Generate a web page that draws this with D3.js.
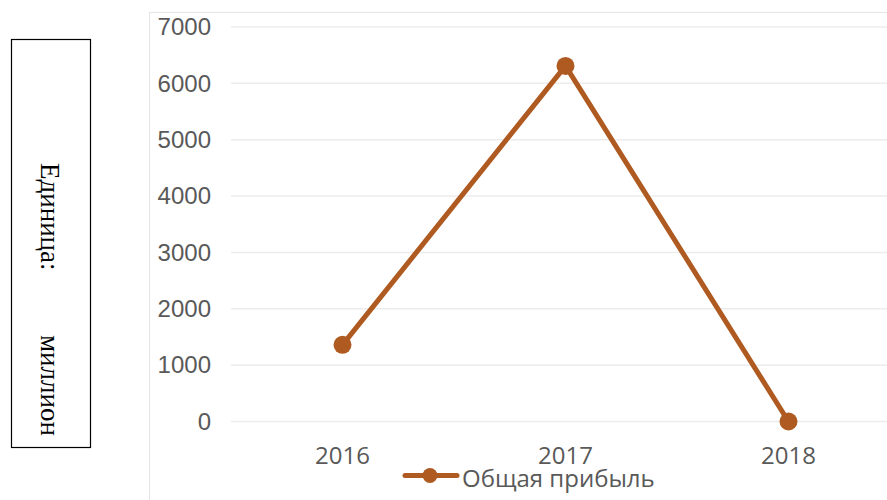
<!DOCTYPE html>
<html>
<head>
<meta charset="utf-8">
<script src="https://cdn.jsdelivr.net/npm/d3@7"></script>
<style>
  html, body { margin: 0; padding: 0; background: #ffffff; }
  svg { display: block; }
</style>
</head>
<body>
<div id="chart"></div>
<script>
const categories = ["2016", "2017", "2018"];
const seriesName = "Общая прибыль";
const profitValues = [1360, 6310, 0];
const yTickValues = [0, 1000, 2000, 3000, 4000, 5000, 6000, 7000];
const unitLabelParts = ["Единица:", "миллион"];

const W = 887, H = 500;
const lineColor = "#AE5A21";
const textColor = "#595959";

const svg = d3.select("#chart").append("svg")
  .attr("width", W).attr("height", H);

// chart area frame (extends beyond the visible window)
svg.append("rect")
  .attr("x", 149.5).attr("y", 12.5)
  .attr("width", 800).attr("height", 600)
  .attr("fill", "none").attr("stroke", "#e6e6e6").attr("stroke-width", 1.2);

const x = d3.scaleBand().domain(categories).range([231, 900]).padding(0);
const y = d3.scaleLinear().domain([0, 7000]).range([421.5, 27]);

// gridlines
svg.append("g").selectAll("line").data(yTickValues).join("line")
  .attr("x1", 231).attr("x2", 900)
  .attr("y1", d => y(d)).attr("y2", d => y(d))
  .attr("stroke", "#ececec").attr("stroke-width", 1.5);

// y axis labels
const yAxis = d3.axisLeft(y).tickValues(yTickValues).tickFormat(d3.format("d")).tickSize(0).tickPadding(0);
const gy = svg.append("g").attr("transform", "translate(211,0)").call(yAxis);
gy.select(".domain").remove();
gy.selectAll("text")
  .attr("fill", textColor)
  .style("font-family", "'Liberation Sans', Arial, sans-serif")
  .style("font-size", "24px");

// x axis labels
const xAxis = d3.axisBottom(x).tickSize(0).tickPadding(0);
const gx = svg.append("g").attr("transform", "translate(0,446)").call(xAxis);
gx.select(".domain").remove();
gx.selectAll("text")
  .attr("dy", "0")
  .attr("y", 18)
  .attr("fill", textColor)
  .style("font-family", "'Open Sans', 'Noto Sans', sans-serif")
  .style("font-size", "24px");

// series line
const data = categories.map((c, i) => ({ c, v: profitValues[i] }));
const line = d3.line().x(d => x(d.c) + x.bandwidth() / 2).y(d => y(d.v));
svg.append("path").datum(data)
  .attr("d", line)
  .attr("fill", "none").attr("stroke", lineColor)
  .attr("stroke-width", 5).attr("stroke-linejoin", "round").attr("stroke-linecap", "round");
svg.append("g").selectAll("circle").data(data).join("circle")
  .attr("cx", d => x(d.c) + x.bandwidth() / 2)
  .attr("cy", d => y(d.v))
  .attr("r", 9)
  .attr("fill", lineColor);

// legend
const lg = svg.append("g");
lg.append("line").attr("x1", 405).attr("x2", 457).attr("y1", 475.5).attr("y2", 475.5)
  .attr("stroke", lineColor).attr("stroke-width", 5).attr("stroke-linecap", "round");
lg.append("circle").attr("cx", 430).attr("cy", 475.5).attr("r", 7.5).attr("fill", lineColor);
lg.append("text").attr("x", 462).attr("y", 487)
  .attr("fill", textColor)
  .style("font-family", "'Open Sans', 'Noto Sans', sans-serif")
  .style("font-size", "24px")
  .text(seriesName);

// unit box
svg.append("rect")
  .attr("x", 11.5).attr("y", 39.5).attr("width", 79).attr("height", 408)
  .attr("fill", "#ffffff").attr("stroke", "#000000").attr("stroke-width", 1.2);
const unitPos = [163, 335];
unitLabelParts.forEach((t, i) => {
  svg.append("text")
    .attr("transform", `translate(41,${unitPos[i]}) rotate(90)`)
    .attr("fill", "#000000")
    .style("font-family", "'Liberation Serif', 'Times New Roman', serif")
    .style("font-size", "27px")
    .text(t);
});
</script>
</body>
</html>
